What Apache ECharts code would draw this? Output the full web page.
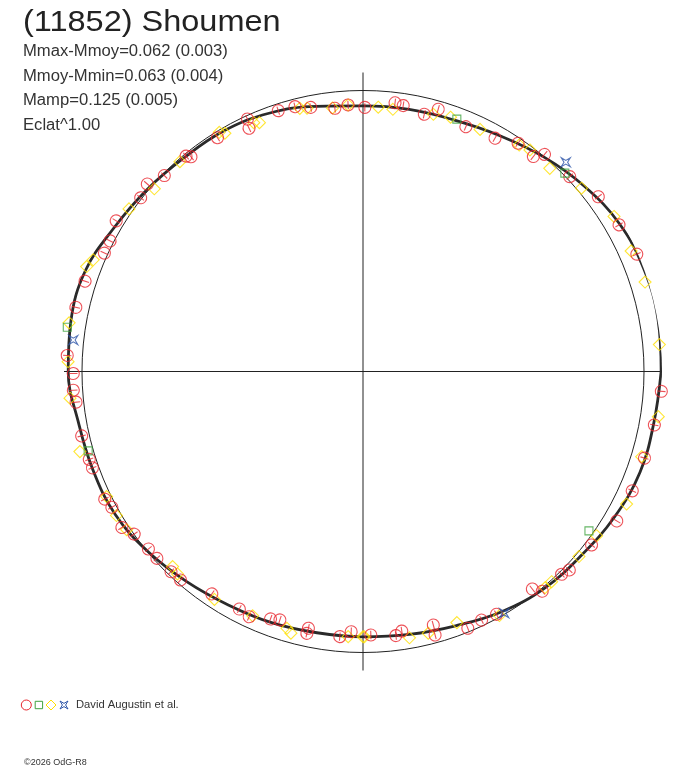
<!DOCTYPE html>
<html>
<head>
<meta charset="utf-8">
<title>(11852) Shoumen</title>
<script src="https://cdn.jsdelivr.net/npm/echarts@6/dist/echarts.min.js"></script>
<style>
  html, body { margin: 0; padding: 0; background: #fff; }
  #chart { width: 688px; height: 768px; }
</style>
</head>
<body>
<div id="chart"></div>
<script>
// fitted light curve, radius = relative flux, angle = phase (deg)
var fitAngles = [0, 10, 20, 30, 40, 50, 60, 70, 80, 90, 100, 110, 120, 130, 140, 150, 160, 170, 180,
                 190, 200, 210, 220, 230, 240, 250, 260, 270, 280, 290, 300, 310, 320, 330, 340, 350, 360];
var fitFlux = [1.061, 1.066, 1.064, 1.053, 1.027, 0.998, 0.970, 0.952, 0.947, 0.945, 0.958, 0.978, 0.989, 0.992,
               1.005, 1.023, 1.051, 1.055, 1.049, 1.029, 1.023, 1.018, 0.998, 0.976, 0.959, 0.951, 0.944,
               0.944, 0.950, 0.963, 0.987, 1.006, 1.016, 1.034, 1.049, 1.051, 1.061];

// observed sessions [phase angle, relative flux]
var redPts = [
  [89.6,0.940],[83.2,0.963],[81.4,0.957],[76.6,0.941],[74.0,0.971],[67.2,0.945],[60.5,0.954],[55.8,0.982],
  [51.6,0.976],[50.1,1.007],[43.3,1.011],[36.6,1.043],[29.8,1.050],[23.2,1.060],[16.6,1.069],[10.0,1.073],
  [356.2,1.064],[349.6,1.054],[342.9,1.048],[336.1,1.048],[329.5,1.048],[322.8,1.021],[316.1,1.019],
  [314.4,1.010],[309.2,1.009],[307.9,0.981],[298.8,0.986],[295.5,0.980],[292.2,0.987],[285.5,0.936],
  [285.3,0.972],[278.5,0.934],[277.1,0.947],[271.7,0.938],
  [93.2,0.950],[96.1,0.942],[101.2,0.958],[104.4,0.973],[108.0,0.976],[114.6,0.988],[115.1,0.956],
  [121.9,0.980],[128.7,0.979],[129.4,0.992],[135.4,0.993],[139.0,1.017],[142.0,1.004],[148.6,1.029],
  [152.7,1.013],[155.4,1.012],[162.0,1.040],[167.4,1.047],[176.9,1.054],[180.4,1.031],
  [183.7,1.033],[186.1,1.027],[192.9,1.027],[197.8,1.023],[199.6,1.022],[206.3,1.025],[208.4,1.016],
  [212.9,1.022],[215.4,0.999],[219.6,0.991],[222.2,0.990],[226.2,0.987],[228.8,0.986],[235.8,0.957],
  [242.5,0.953],[245.1,0.962],[249.5,0.940],[251.5,0.932],[258.0,0.934],[257.9,0.953],[265.0,0.947],
  [267.4,0.927]
];
var yellowPts = [
  [86.7,0.942],[83.5,0.939],[74.7,0.949],[71.0,0.957],[64.2,0.957],[55.4,0.979],[53.0,0.987],[47.4,0.982],
  [40.0,1.015],[31.7,1.050],[24.2,1.046],[17.6,1.053],[5.2,1.059],[351.3,1.063],
  [343.0,1.037],[333.3,1.050],[324.9,1.016],[319.4,1.012],[311.9,1.005],[310.1,1.006],[299.2,0.995],
  [290.5,0.954],[284.0,0.960],[279.9,0.962],[270.0,0.944],
  [93.2,0.950],[96.6,0.944],[103.5,0.963],[102.0,0.958],[112.6,0.959],[113.7,0.967],[121.0,0.993],
  [120.1,0.980],[131.1,0.991],[138.8,0.987],[145.2,1.014],[159.2,1.052],[157.5,1.039],[170.6,1.060],
  [178.1,1.050],
  [185.2,1.047],[195.8,1.047],[206.0,1.015],[210.3,1.016],[213.8,1.012],[225.7,0.970],[227.5,0.977],
  [236.9,0.968],[245.7,0.954],[253.5,0.953],[254.6,0.966],[266.8,0.945],[270.3,0.944]
];
var greenPts = [[69.6,0.958],[44.5,1.007],[324.8,0.984],[171.5,1.064],[196.1,1.018]];
var bluePts = [[45.9,1.037],[300.3,0.996],[173.8,1.037]];

var infoLines = ['Mmax-Mmoy=0.062 (0.003)', 'Mmoy-Mmin=0.063 (0.004)', 'Mamp=0.125 (0.005)', 'Eclat^1.00'];

var circleTick = 'path://M0,-10A10,10,0,1,1,0,10A10,10,0,1,1,0,-10ZM0,-7L0,7';
var starPath = 'path://M-10,-10L0,-4L10,-10L4,0L10,10L0,4L-10,10L-4,0Z';

var chart = echarts.init(document.getElementById('chart'));

var fitData = fitAngles.map(function (a, i) { return [fitFlux[i], a]; });
function toPolar(pts) { return pts.map(function (p) { return [p[1], p[0]]; }); }

var graphics = [{
  type: 'text', x: 23, y: 23, scaleX: 1.12,
  style: { text: '(11852) Shoumen', font: '29px "Liberation Sans", Arial, sans-serif',
           fill: '#222', verticalAlign: 'middle' }
}];
infoLines.forEach(function (t, i) {
  graphics.push({
    type: 'text', x: 23, y: 52 + i * 24.5, scaleX: 1.04,
    style: { text: t, font: '16px "Liberation Sans", Arial, sans-serif', fill: '#333', verticalAlign: 'middle' }
  });
});
graphics.push(
  { type: 'circle', shape: { cx: 26.3, cy: 705, r: 5 }, style: { fill: 'none', stroke: '#e8262d', lineWidth: 1 } },
  { type: 'rect', shape: { x: 35.2, y: 701.3, width: 7.4, height: 7.4 }, style: { fill: 'none', stroke: '#3fa33f', lineWidth: 1 } },
  { type: 'polygon', shape: { points: [[51, 700], [56, 705], [51, 710], [46, 705]] }, style: { fill: 'none', stroke: '#ffe000', lineWidth: 1 } },
  { type: 'polygon', shape: { points: [[60, 701], [64, 703.4], [68, 701], [65.6, 705], [68, 709], [64, 706.6], [60, 709], [62.4, 705]] },
    style: { fill: 'none', stroke: '#2c54a8', lineWidth: 1 } },
  { type: 'text', x: 76, y: 705, scaleX: 1.12,
    style: { text: 'David Augustin et al.', font: '10px "Liberation Sans", Arial, sans-serif', fill: '#333', verticalAlign: 'middle' } },
  { type: 'text', x: 24, y: 763,
    style: { text: '©2026 OdG-R8', font: '9px "Liberation Sans", Arial, sans-serif', fill: '#333', verticalAlign: 'middle' } }
);

var option = {
  backgroundColor: '#fff',
  animation: false,
  polar: { center: [363, 371.5], radius: 299 },
  angleAxis: {
    type: 'value', min: 0, max: 360, interval: 90, startAngle: 0, clockwise: false,
    axisLine: { show: false }, axisTick: { show: false }, axisLabel: { show: false },
    splitLine: { show: true, lineStyle: { color: '#222', width: 1 } }
  },
  radiusAxis: {
    type: 'value', min: 0, max: 1.064, interval: 1,
    axisLine: { show: false }, axisTick: { show: false }, axisLabel: { show: false },
    // rings at 0, 1 and max: only the unit (mean flux) ring is visible
    splitLine: { show: true, lineStyle: { color: ['transparent', '#222', 'transparent'], width: 1 } }
  },
  graphic: graphics,
  series: [
    {
      name: 'fit', type: 'line', coordinateSystem: 'polar', data: fitData, smooth: 0.4,
      showSymbol: false, lineStyle: { color: '#2a2a2a', width: 2.8 }, z: 2
    },
    {
      name: 'red', type: 'scatter', coordinateSystem: 'polar', symbol: circleTick, symbolSize: 12,
      data: redPts.map(function (p) { return { value: [p[1], p[0]], symbolRotate: p[0] - 90 }; }),
      itemStyle: { color: 'none', borderColor: '#e8262d', borderWidth: 1.1 }, z: 4
    },
    {
      name: 'yellow', type: 'scatter', coordinateSystem: 'polar', symbol: 'diamond', symbolSize: 12,
      data: toPolar(yellowPts),
      itemStyle: { color: 'none', borderColor: '#ffe000', borderWidth: 1.1 }, z: 3
    },
    {
      name: 'green', type: 'scatter', coordinateSystem: 'polar', symbol: 'rect', symbolSize: 8,
      data: toPolar(greenPts),
      itemStyle: { color: 'none', borderColor: '#3fa33f', borderWidth: 1.1 }, z: 5
    },
    {
      name: 'blue', type: 'scatter', coordinateSystem: 'polar', symbol: starPath, symbolSize: 9,
      data: toPolar(bluePts),
      itemStyle: { color: 'none', borderColor: '#2c54a8', borderWidth: 1.1 }, z: 5
    }
  ]
};

chart.setOption(option);
</script>
</body>
</html>
